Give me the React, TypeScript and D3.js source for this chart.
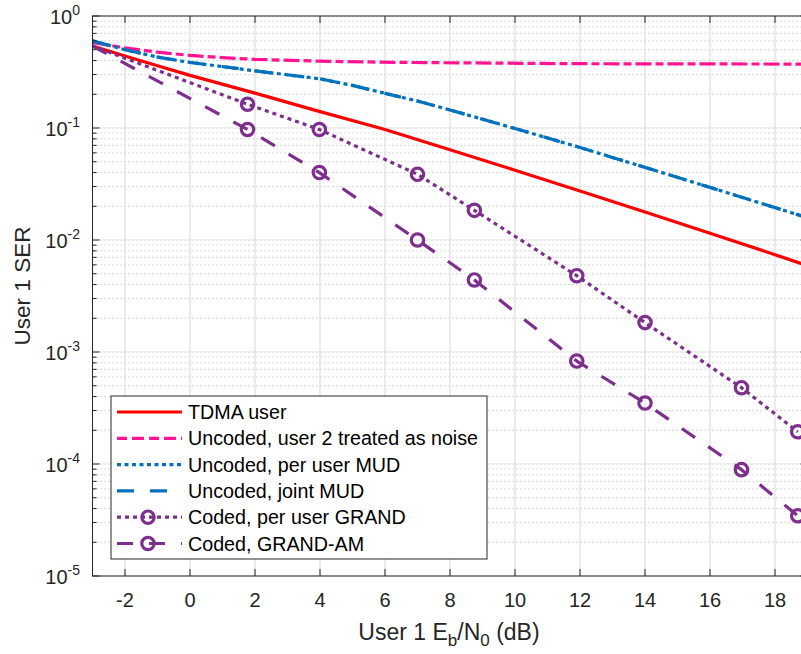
import React from 'react';
import * as d3 from 'd3';

// axes
const xDomain: [number, number] = [-3, 19];
const yDomain: [number, number] = [1e-5, 1];
const xTicks = [-2, 0, 2, 4, 6, 8, 10, 12, 14, 16, 18];
const yExponents = [0, -1, -2, -3, -4, -5];

// series (Eb/N0 in dB, SER)
const tdmaX = [-3, -2, -1, 0, 2, 4, 6, 8, 10, 12, 14, 16, 18, 19];
const tdmaY = [0.54, 0.44, 0.36, 0.295, 0.205, 0.14, 0.097, 0.064, 0.042, 0.0274, 0.0178, 0.0115, 0.0074, 0.0059];

const noiseX = [-3, -2, -1, 0, 1, 2, 4, 6.5, 12, 19];
const noiseY = [0.58, 0.52, 0.475, 0.445, 0.425, 0.41, 0.395, 0.385, 0.375, 0.372];

const mudX = [-3, -2, -1, 0, 2, 4, 5, 6, 7, 8, 10, 12, 14, 16, 19];
const mudY = [0.6, 0.5, 0.43, 0.385, 0.324, 0.275, 0.24, 0.204, 0.174, 0.145, 0.099, 0.067, 0.0445, 0.0295, 0.0158];

const grandX = [-3, 1.77, 3.98, 7.0, 8.75, 11.9, 14.0, 16.97, 18.7];
const grandY = [0.54, 0.163, 0.097, 0.0386, 0.0184, 0.0048, 0.00183, 0.00048, 0.000194];
const grandAmY = [0.54, 0.097, 0.04, 0.01, 0.0044, 0.00083, 0.00035, 0.000089, 0.0000345];

const legendLabels = [
  'TDMA user',
  'Uncoded, user 2 treated as noise',
  'Uncoded, per user MUD',
  'Uncoded, joint MUD',
  'Coded, per user GRAND',
  'Coded, GRAND-AM',
];

const FONT = '"Liberation Sans", Arial, Helvetica, sans-serif';
const AX = '#262626';

const W = 801, H = 654;
const left = 92.5, right = 807.5, top = 16, bottom = 576;

type Series = {
  xs: number[];
  ys: number[];
  color: string;
  dash: string;
  legendDash: string;
  markers: boolean;
};

const series: Series[] = [
  { xs: tdmaX, ys: tdmaY, color: '#ff0000', dash: 'none', legendDash: 'none', markers: false },
  { xs: noiseX, ys: noiseY, color: '#ff1493', dash: '16,4,8,4', legendDash: '10,5,12,5', markers: false },
  { xs: mudX, ys: mudY, color: '#0072bd', dash: '4,3.5', legendDash: '4,3.5', markers: false },
  { xs: mudX, ys: mudY, color: '#0072bd', dash: '17,16', legendDash: '17,16', markers: false },
  { xs: grandX, ys: grandY, color: '#7e2f8e', dash: '4,4', legendDash: '4,4', markers: true },
  { xs: grandX, ys: grandAmY, color: '#7e2f8e', dash: '16,16', legendDash: '16,16', markers: true },
];

export default function App() {
  const x = d3.scaleLinear().domain(xDomain).range([left, right]);
  const y = d3.scaleLog().domain(yDomain).range([bottom, top]);

  const minorY: number[] = [];
  yExponents.slice(0, -1).forEach(e => {
    for (let k = 2; k <= 9; k++) minorY.push(k * Math.pow(10, e - 1));
  });

  const line = d3.line<[number, number]>()
    .x(d => x(d[0]))
    .y(d => y(d[1]));

  const legX = 111, legY = 396, legW = 376, legH = 163;
  const rowH = 26.3;

  return (
    <svg width={W} height={H} style={{ position: 'absolute', left: 0, top: 0, background: '#fff' }}
      fontFamily={FONT}>
      <defs>
        <clipPath id="plot">
          <rect x={left} y={top} width={right - left} height={bottom - top} />
        </clipPath>
      </defs>
      <rect x={0} y={0} width={W} height={H} fill="#fff" />

      {/* grid */}
      {minorY.map((v, i) => (
        <line key={'mg' + i} x1={left} x2={right} y1={y(v)} y2={y(v)}
          stroke="#c4c4c4" strokeWidth={1} strokeDasharray="1.3,2.7" />
      ))}
      {yExponents.map(e => (
        <line key={'yg' + e} x1={left} x2={right} y1={y(Math.pow(10, e))} y2={y(Math.pow(10, e))}
          stroke="#dedede" strokeWidth={1.2} />
      ))}
      {xTicks.map(t => (
        <line key={'xg' + t} x1={x(t)} x2={x(t)} y1={top} y2={bottom} stroke="#dedede" strokeWidth={1.2} />
      ))}

      {/* series */}
      <g clipPath="url(#plot)">
        {series.map((s, i) => (
          <path key={'s' + i}
            d={line(s.xs.map((v, j) => [v, s.ys[j]] as [number, number])) || ''}
            fill="none" stroke={s.color} strokeWidth={3.2}
            strokeDasharray={s.dash} strokeLinecap="butt" strokeLinejoin="round" />
        ))}
      </g>
      {series.filter(s => s.markers).map((s, i) => (
        <g key={'m' + i}>
          {s.xs.slice(1).map((v, j) => (
            <circle key={j} cx={x(v)} cy={y(s.ys[j + 1])} r={6.2}
              fill="none" stroke={s.color} strokeWidth={3.2} />
          ))}
        </g>
      ))}

      {/* axes box */}
      <rect x={left} y={top} width={right - left} height={bottom - top} fill="none" stroke={AX} strokeWidth={1} />
      {xTicks.map(t => (
        <g key={'xt' + t}>
          <line x1={x(t)} x2={x(t)} y1={bottom} y2={bottom - 7} stroke={AX} />
          <line x1={x(t)} x2={x(t)} y1={top} y2={top + 7} stroke={AX} />
          <text x={x(t)} y={607} textAnchor="middle" fontSize={20} fill={AX}>{t}</text>
        </g>
      ))}
      {yExponents.map(e => (
        <g key={'yt' + e}>
          <line x1={left} x2={left + 7} y1={y(Math.pow(10, e))} y2={y(Math.pow(10, e))} stroke={AX} />
          <line x1={right} x2={right - 7} y1={y(Math.pow(10, e))} y2={y(Math.pow(10, e))} stroke={AX} />
          <text x={80} y={y(Math.pow(10, e)) + 8} textAnchor="end" fontSize={20} fill={AX}>
            10<tspan fontSize={14} dy={-9}>{e}</tspan>
          </text>
        </g>
      ))}
      {minorY.map((v, i) => (
        <g key={'ym' + i}>
          <line x1={left} x2={left + 4} y1={y(v)} y2={y(v)} stroke={AX} />
          <line x1={right} x2={right - 4} y1={y(v)} y2={y(v)} stroke={AX} />
        </g>
      ))}

      {/* axis labels */}
      <text x={449} y={640} textAnchor="middle" fontSize={23} fill={AX}>
        User 1 E<tspan fontSize={17} dy={6}>b</tspan><tspan dy={-6}>/N</tspan>
        <tspan fontSize={17} dy={6}>0</tspan><tspan dy={-6}> (dB)</tspan>
      </text>
      <text transform={`translate(30,286) rotate(-90)`} textAnchor="middle" fontSize={22.5} fill={AX}>
        User 1 SER
      </text>

      {/* legend */}
      <rect x={legX} y={legY} width={legW} height={legH} fill="#fff" stroke={AX} strokeWidth={1} />
      {series.map((s, i) => {
        const cy = legY + 16 + i * rowH;
        return (
          <g key={'l' + i}>
            <line x1={117} x2={182} y1={cy} y2={cy} stroke={s.color} strokeWidth={3.2}
              strokeDasharray={s.legendDash} />
            {s.markers && (
              <circle cx={148} cy={cy} r={6.2} fill="none" stroke={s.color} strokeWidth={3.2} />
            )}
            <text x={188} y={cy + 7} fontSize={19.7} fill="#000">{legendLabels[i]}</text>
          </g>
        );
      })}
    </svg>
  );
}
